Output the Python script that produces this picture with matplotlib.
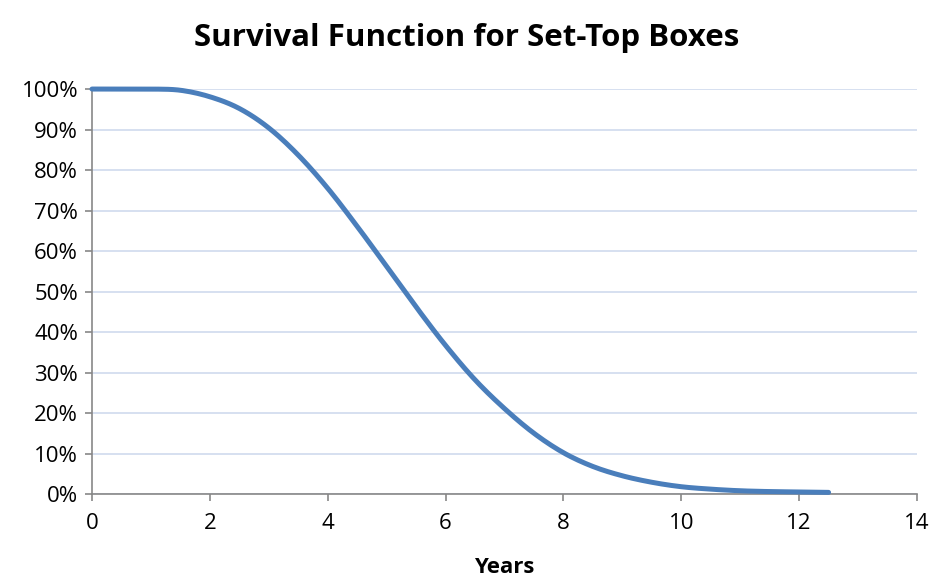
import matplotlib
matplotlib.use("Agg")
import matplotlib.pyplot as plt
import numpy as np
from matplotlib.ticker import PercentFormatter, MultipleLocator

plt.rcParams['font.family'] = ['Open Sans', 'DejaVu Sans']

# survival curve, years vs fraction still in service
years = [0, 0.5, 1.0, 1.5, 2.0, 2.5, 3.0, 3.5, 4.0, 4.5, 5.0, 5.5, 6.0, 6.5,
         7.0, 7.5, 8.0, 8.5, 9.0, 9.5, 10.0, 10.5, 11.0, 11.5, 12.0, 12.5]
survival = [1.000, 1.000, 1.000, 0.997, 0.981, 0.952, 0.904, 0.837, 0.755,
            0.661, 0.562, 0.462, 0.367, 0.282, 0.211, 0.150, 0.102, 0.068,
            0.045, 0.029, 0.018, 0.012, 0.008, 0.006, 0.005, 0.004]


def smooth(x, y, steps=12):
    # Catmull-Rom pass through the points, like a smoothed chart line
    x = np.asarray(x, float)
    y = np.asarray(y, float)
    px = np.concatenate([[2 * x[0] - x[1]], x, [2 * x[-1] - x[-2]]])
    py = np.concatenate([[y[0]], y, [y[-1]]])
    xs, ys = [], []
    t = np.linspace(0, 1, steps, endpoint=False)
    for i in range(1, len(px) - 2):
        for p, out in ((px, xs), (py, ys)):
            p0, p1, p2, p3 = p[i - 1], p[i], p[i + 1], p[i + 2]
            out.extend(0.5 * (2 * p1 + (p2 - p0) * t
                              + (2 * p0 - 5 * p1 + 4 * p2 - p3) * t ** 2
                              + (3 * p1 - p0 - 3 * p2 + p3) * t ** 3))
    xs.append(x[-1])
    ys.append(y[-1])
    return np.array(xs), np.array(ys)


fig = plt.figure(figsize=(9.33, 5.82), dpi=100)
ax = fig.add_axes([0.0986, 0.1512, 0.8842, 0.6958])

sx, sy = smooth(years, survival)
ax.plot(sx, np.minimum(sy, 1.0), color='#4A7EBB', lw=3.6, solid_capstyle='round',
        solid_joinstyle='round', zorder=3, clip_on=False)

ax.set_xlim(0, 14)
ax.set_ylim(0, 1)
ax.xaxis.set_major_locator(MultipleLocator(2))
ax.yaxis.set_major_locator(MultipleLocator(0.1))
ax.yaxis.set_major_formatter(PercentFormatter(1.0, decimals=0))

ax.grid(axis='y', color='#D0DAEE', lw=1.2, zorder=0)
ax.set_axisbelow(True)
for side in ('top', 'right'):
    ax.spines[side].set_visible(False)
for side in ('left', 'bottom'):
    ax.spines[side].set_color('#878787')
    ax.spines[side].set_linewidth(1.2)
ax.tick_params(direction='out', length=5, width=1.2, color='#878787',
               labelsize=16, pad=5)
ax.tick_params(axis='x', pad=9)

ax.set_xlabel('Years', fontsize=16, fontweight='bold', labelpad=16)
fig.suptitle('Survival Function for Set-Top Boxes', fontsize=22.5,
             fontweight='bold', x=0.5, y=0.96)

fig.savefig('out.png', dpi=100)
